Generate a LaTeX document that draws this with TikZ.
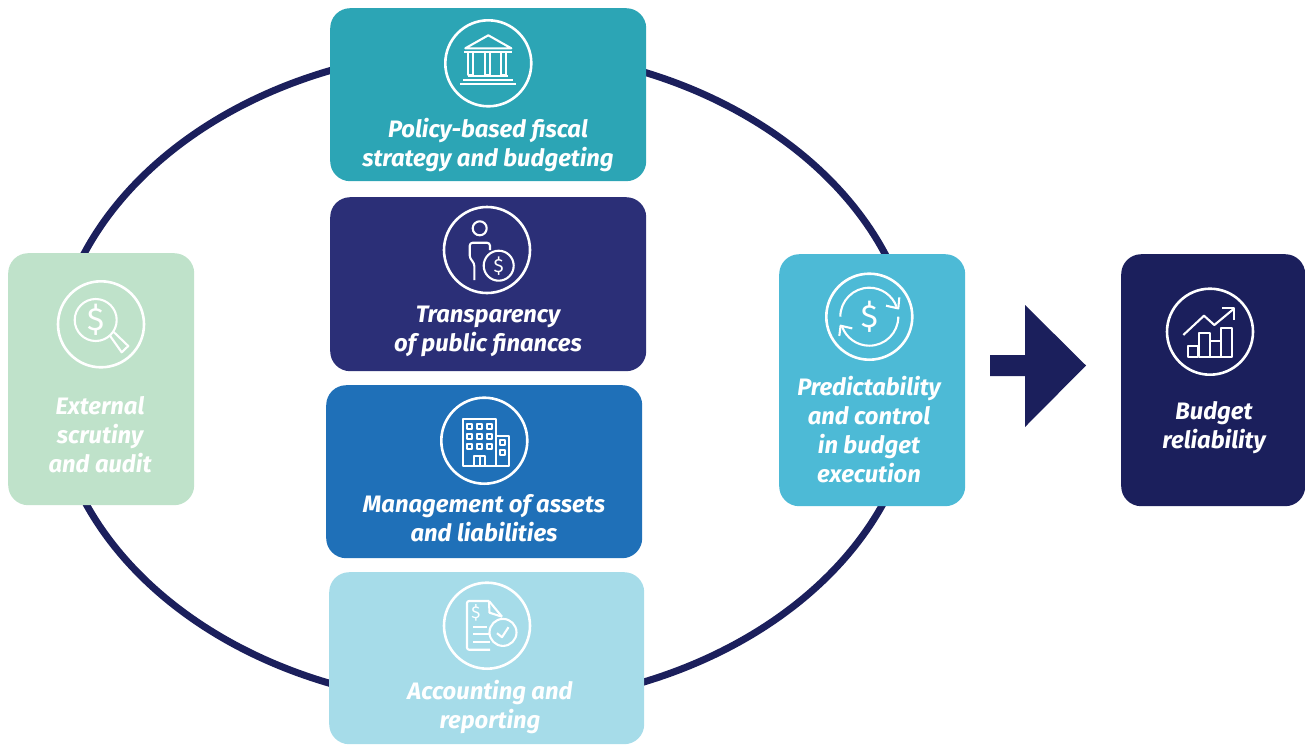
\documentclass[tikz,border=0pt]{standalone}
\usepackage{fontspec}
\setmainfont{Fira Sans}
\definecolor{navy}{HTML}{1B1F5C}
\definecolor{teal}{HTML}{2CA5B5}
\definecolor{indigo}{HTML}{2B2F77}
\definecolor{midblue}{HTML}{1F70B8}
\definecolor{paleblue}{HTML}{A6DCE9}
\definecolor{palegreen}{HTML}{BFE2CA}
\definecolor{skyblue}{HTML}{4DBAD6}
\tikzset{
  x=1pt,y=-1pt,
  panel/.style={draw=none,rounded corners=20pt,inner sep=0pt,anchor=north west},
  lbl/.style={text=white,font=\fontsize{23.8}{29}\selectfont\bfseries\itshape,align=center,inner sep=0pt},
  ico/.style={draw=white,line width=2.1pt,line join=round},
  ring/.style={draw=white,line width=2.6pt},
  dollar/.style={text=white,inner sep=0pt,font=\fontsize{#1}{#1}\selectfont}
}
\newcommand{\panelbox}[6]{\node[panel,fill=#6,minimum width=#4pt-#2pt,minimum height=#5pt-#3pt] (#1) at (#2,#3) {};}
\begin{document}
\begin{tikzpicture}
\useasboundingbox (0,0) rectangle (1305,744);
% cycle
\draw[navy,line width=7pt] (484.5,377) ellipse [x radius=432,y radius=328];
% panels
\panelbox{policy}{330}{8}{646}{181}{teal}
\panelbox{transp}{330}{197}{646}{371}{indigo}
\panelbox{assets}{326}{385}{642}{558}{midblue}
\panelbox{account}{329}{572}{644}{744}{paleblue}
\panelbox{audit}{8}{253}{194}{505}{palegreen}
\panelbox{predict}{779}{254}{965}{506}{skyblue}
\panelbox{reliab}{1121}{254}{1305}{506}{navy}
% arrow
\fill[navy] (990,355) -- (1025,355) -- (1025,305) -- (1086,365.5) -- (1025,427) -- (1025,376) -- (990,376) -- cycle;
% labels
\node[lbl] (t1) at (488,145) {Policy-based fiscal\\strategy and budgeting};
\node[lbl] (t2) at (488,331) {Transparency\\of public finances};
\node[lbl] (t3) at (484,518) {Management of assets\\and liabilities};
\node[lbl] (t4) at (490,707) {Accounting and\\reporting};
\node[lbl] (t5) at (100,435) {External\\scrutiny\\and audit};
\node[lbl] (t6) at (869,430) {Predictability\\and control\\in budget\\execution};
\node[lbl] (t7) at (1214,428) {Budget\\reliability};
% bank icon
\begin{scope}[shift={(488.3,63.3)}]
\draw[ring] (0,0) circle (43);
\draw[ico] (-23,-15) -- (0,-28) -- (23,-15) -- cycle;
\draw[ico] (-24,-11.5) -- (24,-11.5);
\foreach \c in {-17.5,-1,15.5} \draw[ico] (\c-2.5,-11) rectangle (\c+2.5,12);
\draw[ico] (-20,12.5) -- (20,12.5);
\draw[ico] (-25,17) -- (25,17);
\draw[ico] (-28,21) -- (28,21);
\end{scope}
% person icon
\begin{scope}[shift={(487,250)}]
\draw[ring] (0,0) circle (43);
\draw[ico] (-7.3,-21.7) circle (7);
\draw[ico,rounded corners=3pt] (-12.7,30) -- (-12.7,13) -- (-17.3,8.3) -- (-17.3,-7.3) -- (3,-7.3) -- (3,0);
\draw[ico] (11.7,15.7) circle (15);
\node[dollar=19] (d1) at (11.7,15.7) {\$};
\end{scope}
% building icon
\begin{scope}[shift={(484.3,440.7)}]
\draw[ring] (0,0) circle (43);
\draw[ico] (-21.7,-21.7) rectangle (12,25);
\draw[ico] (12,-5) rectangle (24.7,25);
\foreach \wx in {-15,-5,5} \foreach \wy in {-14,-4,6} \draw[ico,line width=1.6pt] (\wx-2.5,\wy-2.5) rectangle (\wx+2.5,\wy+2.5);
\foreach \wy in {1.5,11.5} \draw[ico,line width=1.6pt] (18.3-2.5,\wy-2.5) rectangle (18.3+2.5,\wy+2.5);
\draw[ico] (-10.5,15.5) rectangle (1,25);
\draw[ico] (-4.7,15.5) -- (-4.7,25);
\end{scope}
% document icon
\begin{scope}[shift={(487,625.7)}]
\draw[ring] (0,0) circle (43);
\draw[ico,rounded corners=2pt] (2,-24.7) -- (-20,-24.7) -- (-20,24) -- (3,24);
\draw[ico] (2,-24.7) -- (15,-9);
\draw[ico] (2,-24) -- (2.5,-13) -- (15,-9);
\draw[ico] (16,6.7) circle (13.5);
\draw[ico] (10,7.5) -- (15,11.5) -- (21.5,1.5);
\draw[ico] (-14,1) -- (0,1);
\draw[ico] (-14,8.7) -- (1.5,8.7);
\draw[ico] (-14,16.7) -- (2.5,16.7);
\node[dollar=17] (d2) at (-11,-13) {\$};
\end{scope}
% magnifier icon
\begin{scope}[shift={(101,324.3)}]
\draw[ring] (0,0) circle (43);
\draw[ico] (-5.3,-4.3) circle (21);
\draw[ico] (9,11.5) -- (20.7,28) -- (27.3,21.7) -- (12.3,7.3);
\node[dollar=32] (d3) at (-5.3,-4.3) {\$};
\end{scope}
% cycle icon
\begin{scope}[shift={(869.3,316.7)}]
\draw[ring] (0,0) circle (43);
\draw[ico] (-29,0) arc [start angle=180,end angle=340,radius=29];
\draw[ico] (16.7,-11) -- (29,-8.3) -- (30,-19.3);
\draw[ico] (29,0) arc [start angle=0,end angle=160,radius=29];
\draw[ico] (-17,11.7) -- (-28.7,9) -- (-30,19.3);
\node[dollar=32] (d4) at (0,0) {\$};
\end{scope}
% chart icon
\begin{scope}[shift={(1210,331.7)}]
\draw[ring] (0,0) circle (43);
\draw[ico] (-26.7,3.3) -- (-6,-16) -- (4.3,-6.7) -- (24.3,-23.3);
\draw[ico] (12.3,-23.3) -- (24.3,-23.3) -- (24.3,-11.7);
\draw[ico] (-22.3,14.3) rectangle (-11.7,25);
\draw[ico] (-10.7,1.7) rectangle (0,25);
\draw[ico] (0,9) rectangle (11,25);
\draw[ico] (11,-3.3) rectangle (21.7,25);
\end{scope}
\end{tikzpicture}
\end{document}
